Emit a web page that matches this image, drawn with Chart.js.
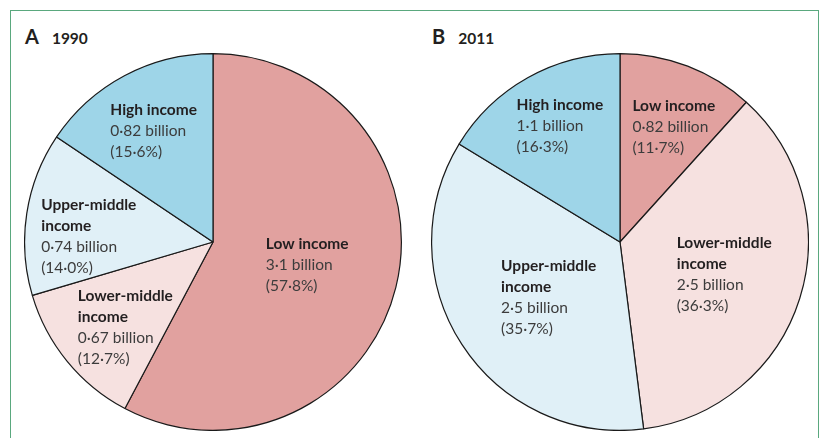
<!DOCTYPE html>
<html>
<head>
<meta charset="utf-8">
<script src="https://cdn.jsdelivr.net/npm/chart.js@4"></script>
<style>
    html, body {
        margin: 0;
        padding: 0;
        background: #fff;
        overflow: hidden;
        width: 826px;
        height: 438px;
    }
    .frame {
        position: absolute;
        left: 10px;
        top: 10px;
        width: 809px;
        height: 520px;
        border: 1.5px solid #5aa87e;
        box-sizing: border-box;
    }
    .panel_title {
        position: absolute;
        top: 24px;
        font-family: Lato, sans-serif;
        font-weight: bold;
        color: #231f20;
    }
    .panel_letter {
        font-size: 20px;
        margin-right: 13px;
    }
    .panel_year {
        font-size: 15.5px;
    }
    .pie_box {
        position: absolute;
        top: 53px;
        width: 378px;
        height: 378px;
    }
</style>
</head>
<body>
<div class="frame"></div>
<div class="panel_title" style="left: 25px"><span class="panel_letter">A</span><span class="panel_year">1990</span></div>
<div class="panel_title" style="left: 432px"><span class="panel_letter">B</span><span class="panel_year">2011</span></div>
<div class="pie_box" style="left: 24px"><canvas id="pie1990" width="378" height="378"></canvas></div>
<div class="pie_box" style="left: 431px"><canvas id="pie2011" width="378" height="378"></canvas></div>

<script>
    // income groups, clockwise from 12 o'clock
    const categories = ["Low income", "Lower-middle income", "Upper-middle income", "High income"];
    const nameLines = [["Low income"], ["Lower-middle", "income"], ["Upper-middle", "income"], ["High income"]];

    // population (billion) and share of world population (%)
    const pop1990 = [3.1, 0.67, 0.74, 0.82];
    const share1990 = [57.8, 12.7, 14.0, 15.6];
    const pop2011 = [0.82, 2.5, 2.5, 1.1];
    const share2011 = [11.7, 36.3, 35.7, 16.3];

    const COLORS = ["#e1a19f", "#f6e1e0", "#e0f0f7", "#9ed5e8"];

    function dot(v) {
        return String(v).replace(".", "·");
    }

    // label placement: fraction of radius + small angle nudge (degrees)
    const labelPlace1990 = { r: [0.515, 0.65, 0.66, 0.67], nudge: [0, -5, -6, 0] };
    const labelPlace2011 = { r: [0.675, 0.58, 0.48, 0.695], nudge: [4, 0, -5, 2] };

    const sliceLabels = {
        id: "sliceLabels",
        afterDatasetsDraw(chart, args, opts) {
            const ctx = chart.ctx;
            const meta = chart.getDatasetMeta(0);
            const lh = 21;
            meta.data.forEach((arc, i) => {
                const p = arc.getProps(["x", "y", "startAngle", "endAngle", "outerRadius"], true);
                const mid = (p.startAngle + p.endAngle) / 2 + (opts.place.nudge[i] * Math.PI) / 180;
                const r = p.outerRadius * opts.place.r[i];
                const cx = p.x + Math.cos(mid) * r;
                const cy = p.y + Math.sin(mid) * r;

                const lines = nameLines[i].map((t) => ({ t: t, bold: true }));
                lines.push({ t: dot(opts.pops[i]) + " billion", bold: false });
                lines.push({ t: "(" + dot(opts.shares[i].toFixed(1)) + "%)", bold: false });

                let w = 0;
                lines.forEach((l) => {
                    ctx.font = (l.bold ? "bold " : "") + "15.5px Lato";
                    w = Math.max(w, ctx.measureText(l.t).width);
                });
                const left = cx - w / 2;
                let y = cy - ((lines.length - 1) * lh) / 2;
                ctx.save();
                ctx.textAlign = "left";
                ctx.textBaseline = "middle";
                lines.forEach((l) => {
                    ctx.font = (l.bold ? "bold " : "") + "15.5px Lato";
                    ctx.fillStyle = l.bold ? "#231f20" : "#3c3c3c";
                    ctx.fillText(l.t, left, y);
                    y += lh;
                });
                ctx.restore();
            });
        },
    };

    function makePie(id, shares, pops, place) {
        return new Chart(document.getElementById(id), {
            type: "pie",
            data: {
                labels: categories,
                datasets: [
                    {
                        data: shares,
                        backgroundColor: COLORS,
                        borderColor: "#1a1a1a",
                        borderWidth: 1.2,
                    },
                ],
            },
            options: {
                responsive: false,
                animation: false,
                plugins: {
                    legend: { display: false },
                    tooltip: { enabled: false },
                    sliceLabels: { pops: pops, shares: shares, place: place },
                },
            },
            plugins: [sliceLabels],
        });
    }

    makePie("pie1990", share1990, pop1990, labelPlace1990);
    makePie("pie2011", share2011, pop2011, labelPlace2011);
</script>
</body>
</html>
